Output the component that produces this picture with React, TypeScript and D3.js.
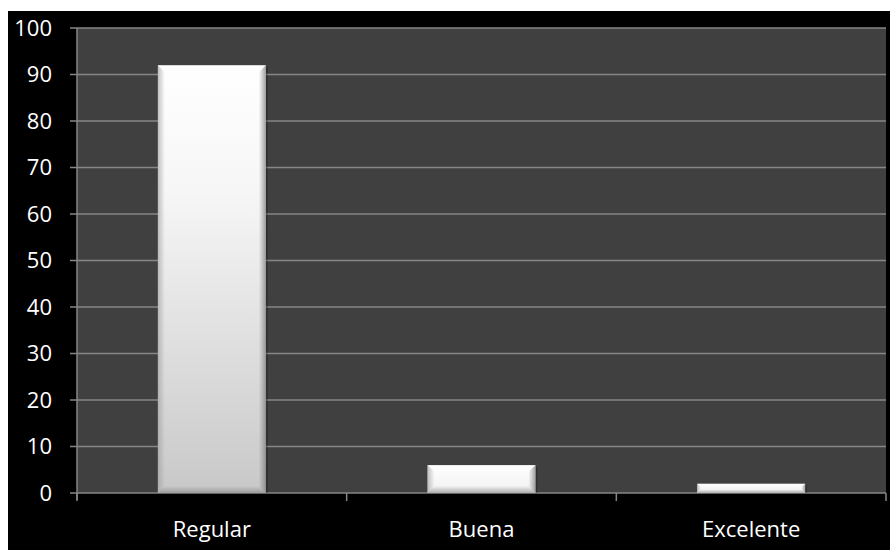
import React from "react";
import * as d3 from "d3";

const categories = ["Regular", "Buena", "Excelente"];
const values = [92, 6, 2];
const yTicks = [0, 10, 20, 30, 40, 50, 60, 70, 80, 90, 100];

const W = 890;
const H = 550;
const plot = { left: 77, right: 886, top: 28, bottom: 493 };

export default function App() {
  const x = d3
    .scaleBand<string>()
    .domain(categories)
    .range([plot.left, plot.right])
    .paddingInner(0.6)
    .paddingOuter(0.3);
  const xBand = d3.scaleBand<string>().domain(categories).range([plot.left, plot.right]);
  const y = d3.scaleLinear().domain([0, 100]).range([plot.bottom, plot.top]);
  const font = "'Open Sans', 'DejaVu Sans', sans-serif";
  const boundaries = [plot.left, ...categories.map((c) => (xBand(c) as number) + xBand.bandwidth())];

  return (
    <svg
      width={W}
      height={H}
      style={{ position: "absolute", left: 0, top: 0, display: "block" }}
    >
      <defs>
        <linearGradient id="face" x1="0" y1="0" x2="0" y2="1">
          <stop offset="0" stopColor="#ffffff" />
          <stop offset="0.3" stopColor="#f6f6f6" />
          <stop offset="1" stopColor="#c8c8c8" />
        </linearGradient>
        <linearGradient id="faceShort" x1="0" y1="0" x2="0" y2="1">
          <stop offset="0" stopColor="#ffffff" />
          <stop offset="1" stopColor="#f0f0f0" />
        </linearGradient>
        <linearGradient id="leftEdge" x1="0" y1="0" x2="1" y2="0">
          <stop offset="0" stopColor="#9a9a9a" stopOpacity={0.6} />
          <stop offset="1" stopColor="#9a9a9a" stopOpacity={0} />
        </linearGradient>
        <linearGradient id="rightEdge" x1="1" y1="0" x2="0" y2="0">
          <stop offset="0" stopColor="#7a7a7a" stopOpacity={0.7} />
          <stop offset="1" stopColor="#7a7a7a" stopOpacity={0} />
        </linearGradient>
        <linearGradient id="bottomEdge" x1="0" y1="1" x2="0" y2="0">
          <stop offset="0" stopColor="#808080" stopOpacity={0.6} />
          <stop offset="1" stopColor="#808080" stopOpacity={0} />
        </linearGradient>
      </defs>
      <rect x={0} y={0} width={W} height={H} fill="#ffffff" />
      <rect x={8} y={11} width={W - 8} height={H - 11} fill="#000000" />
      <rect
        x={plot.left}
        y={plot.top}
        width={plot.right - plot.left}
        height={plot.bottom - plot.top}
        fill="#404040"
      />
      {yTicks.map((t) => (
        <g key={t}>
          <line
            x1={70}
            x2={plot.right}
            y1={y(t)}
            y2={y(t)}
            stroke="#868686"
            strokeWidth={1.5}
          />
          <text
            x={52}
            y={y(t)}
            dy="0.36em"
            textAnchor="end"
            fill="#ffffff"
            fontFamily={font}
            fontSize={22}
          >
            {t}
          </text>
        </g>
      ))}
      <line x1={plot.left} x2={plot.left} y1={plot.top} y2={plot.bottom + 7} stroke="#868686" strokeWidth={1.5} />
      {boundaries.map((b, i) => (
        <line key={i} x1={b} x2={b} y1={plot.bottom} y2={plot.bottom + 8} stroke="#868686" strokeWidth={1.5} />
      ))}
      {categories.map((c, i) => {
        const x0 = x(c) as number;
        const w = x.bandwidth();
        const y0 = y(values[i]);
        const h = plot.bottom - y0;
        const b = Math.min(7, h / 2.5);
        const x1 = x0 + w;
        const y1 = plot.bottom;
        return (
          <g key={c}>
            <rect x={x0 + 2} y={y0 + 2} width={w} height={h - 2} fill="#000" opacity={0.25} />
            <rect x={x0} y={y0} width={w} height={h} fill={h > 100 ? "url(#face)" : "url(#faceShort)"} />
            <polygon
              points={`${x0},${y0} ${x0 + b},${y0 + b} ${x0 + b},${y1 - b} ${x0},${y1}`}
              fill="url(#leftEdge)"
            />
            <polygon
              points={`${x1},${y0} ${x1 - b},${y0 + b} ${x1 - b},${y1 - b} ${x1},${y1}`}
              fill="url(#rightEdge)"
            />
            <polygon
              points={`${x0},${y1} ${x0 + b},${y1 - b} ${x1 - b},${y1 - b} ${x1},${y1}`}
              fill="url(#bottomEdge)"
            />
          </g>
        );
      })}
      {categories.map((c) => (
        <text
          key={c}
          x={(xBand(c) as number) + xBand.bandwidth() / 2}
          y={537}
          textAnchor="middle"
          fill="#ffffff"
          fontFamily={font}
          fontSize={22}
        >
          {c}
        </text>
      ))}
    </svg>
  );
}
